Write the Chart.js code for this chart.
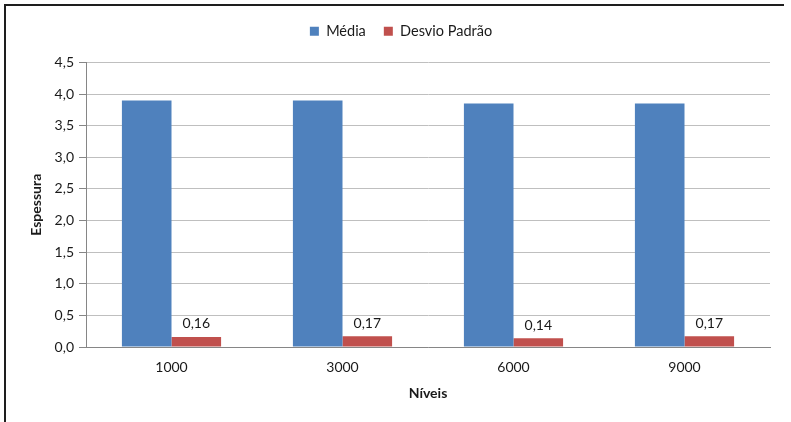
<!DOCTYPE html>
<html>
<head>
<meta charset="utf-8">
<script src="https://cdn.jsdelivr.net/npm/chart.js@4/dist/chart.umd.min.js"></script>
<style>
  html, body { margin: 0; padding: 0; background: #fff; }
  #wrap { position: relative; width: 791px; height: 422px; overflow: hidden; }
  #chart { position: absolute; left: 0; top: 0; }
  #frame {
    position: absolute; left: 4px; top: 4px; width: 778px; height: 430px;
    border-top: 2px solid #1e1e1e; border-left: 2px solid #1e1e1e;
    pointer-events: none;
  }
</style>
</head>
<body>
<div id="wrap">
  <canvas id="chart" width="791" height="422"></canvas>
  <div id="frame"></div>
</div>
<script>
// Espessura por nível
const niveis = ['1000', '3000', '6000', '9000'];
const media = [3.90, 3.90, 3.85, 3.85];
const desvioPadrao = [0.16, 0.17, 0.14, 0.17];
const yTicks = [0, 0.5, 1.0, 1.5, 2.0, 2.5, 3.0, 3.5, 4.0, 4.5];

const FONT = 'Lato, "Liberation Sans", sans-serif';
const fmt = v => v.toFixed(1).replace('.', ',');

// Espaço extra entre a legenda e a área do gráfico; legenda centrada na página
const legendGap = {
  id: 'legendGap',
  beforeLayout(chart) {
    const lg = chart.legend;
    if (lg && !lg._gapPatched) {
      const fit = lg.fit;
      lg.fit = function () { fit.call(this); this.height += 14; };
      lg._gapPatched = true;
    }
  },
  afterLayout(chart) {
    const lg = chart.legend;
    if (lg) { lg.left += 16; lg.right += 16; }
  }
};

// Rótulos de valor sobre as barras do desvio padrão
const valueLabels = {
  id: 'valueLabels',
  afterDatasetsDraw(chart) {
    const ctx = chart.ctx;
    const meta = chart.getDatasetMeta(1);
    ctx.save();
    ctx.font = '14px ' + FONT;
    ctx.fillStyle = '#1a1a1a';
    ctx.textAlign = 'center';
    ctx.textBaseline = 'bottom';
    meta.data.forEach((bar, i) => {
      const v = chart.data.datasets[1].data[i];
      ctx.fillText(v.toFixed(2).replace('.', ','), bar.x, bar.y - 6);
    });
    ctx.restore();
  }
};

new Chart(document.getElementById('chart'), {
  type: 'bar',
  data: {
    labels: niveis,
    datasets: [
      { label: 'Média', data: media, backgroundColor: '#4F81BD',
        categoryPercentage: 0.58, barPercentage: 1.0 },
      { label: 'Desvio Padrão', data: desvioPadrao, backgroundColor: '#C0504D',
        categoryPercentage: 0.58, barPercentage: 1.0 }
    ]
  },
  options: {
    responsive: false,
    animation: false,
    layout: { padding: { left: 0, right: 21, top: 6, bottom: 0 } },
    plugins: {
      legend: {
        position: 'top',
        labels: {
          boxWidth: 9, boxHeight: 9, padding: 18,
          color: '#1a1a1a', font: { family: FONT, size: 14.5 }
        }
      },
      tooltip: { enabled: false }
    },
    scales: {
      x: {
        grid: { display: false, drawTicks: false },
        border: { display: true, color: '#868686', width: 1 },
        ticks: { color: '#1a1a1a', font: { family: FONT, size: 14 }, padding: 12 },
        title: { display: true, text: 'Níveis', color: '#1a1a1a',
                 font: { family: FONT, size: 14, weight: 'bold' },
                 padding: { top: 0, bottom: 20 } },
        afterFit(scale) { scale.height = 75; }
      },
      y: {
        min: 0, max: 4.5,
        afterBuildTicks(scale) { scale.ticks = yTicks.map(v => ({ value: v })); },
        grid: { color: '#bfbfbf', lineWidth: 1, drawTicks: true, tickLength: 7, tickColor: '#868686' },
        border: { display: true, color: '#868686', width: 1 },
        ticks: { color: '#1a1a1a', font: { family: FONT, size: 14 }, padding: 5,
                 callback: v => fmt(v) },
        title: { display: true, text: 'Espessura', color: '#1a1a1a',
                 font: { family: FONT, size: 14, weight: 'bold' },
                 padding: { top: 28, bottom: 0 } },
        afterFit(scale) { scale.width = 86; }
      }
    }
  },
  plugins: [legendGap, valueLabels]
});
</script>
</body>
</html>
